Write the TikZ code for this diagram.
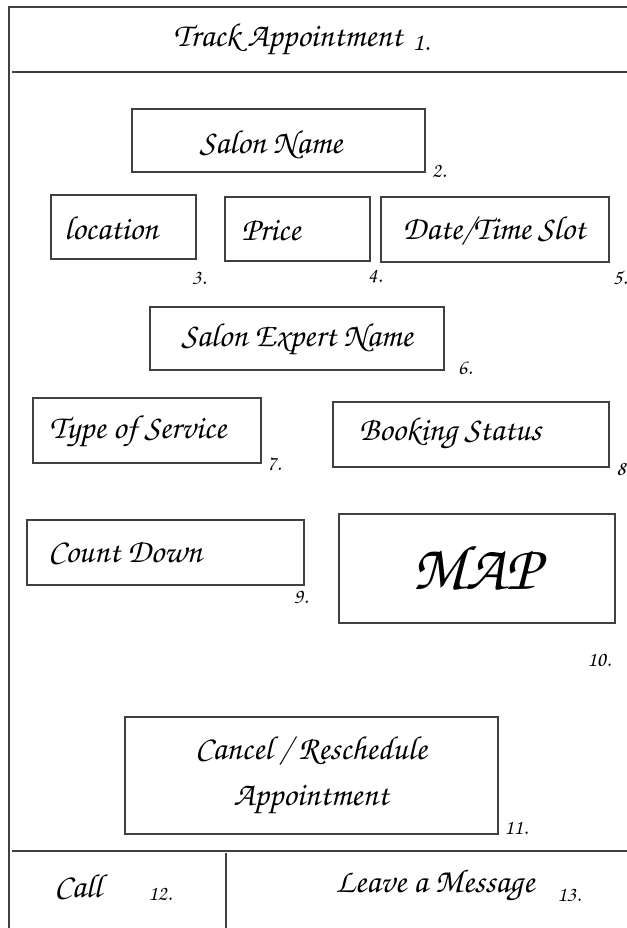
\documentclass[tikz,border=0pt]{standalone}
\usepackage[T1]{fontenc}
\usetikzlibrary{fit}
\newcommand{\handfont}{\fontencoding{T1}\fontfamily{pzc}\fontseries{mb}\fontshape{it}\selectfont}

\begin{document}
\begin{tikzpicture}[x=0.75pt, y=-0.75pt,
  frame/.style={draw=black!75, line width=1.4pt},
  box/.style={draw=black!75, line width=1.1pt, inner sep=0pt},
  txt/.style={font=\handfont\fontsize{25}{28}\selectfont, inner sep=0pt},
  num/.style={font=\handfont\fontsize{16}{18}\selectfont, inner sep=0pt}]

\useasboundingbox (0,0) rectangle (627,928);

\draw[frame] (9,928)--(9,7)--(627,7);
\draw[frame] (12,72)--(627,72);
\draw[frame] (12,851)--(627,851);
\draw[frame] (226,853)--(226,928);

\node[txt] (title) at (288,40) {Track Appointment};
\node[num, font=\handfont\fontsize{19}{21}\selectfont] (n1) at (421,43) {1.};

\node[box, fit={(132,109) (425,172)}] (salon) {};
\node[box, fit={(51,195) (196,259)}] (loc) {};
\node[box, fit={(225,197) (370,261)}] (price) {};
\node[box, fit={(381,197) (609,262)}] (date) {};
\node[box, fit={(150,307) (444,370)}] (expert) {};
\node[box, fit={(33,398) (261,463)}] (service) {};
\node[box, fit={(333,402) (609,467)}] (status) {};
\node[box, fit={(27,520) (304,585)}] (count) {};
\node[box, fit={(339,514) (615,623)}] (map) {};
\node[box, fit={(125,717) (498,834)}] (cancel) {};

\node[txt] (t-salon) at (271,145) {Salon Name};
\node[txt] (t-loc) at (111,228) {location};
\node[txt] (t-price) at (271,230) {Price};
\node[txt] (t-date) at (494,229) {Date/Time Slot};
\node[txt] (t-expert) at (297,340) {Salon Expert Name};
\node[txt] (t-service) at (138,432) {Type of Service};
\node[txt] (t-status) at (450,434) {Booking Status};
\node[txt] (t-count) at (125,552) {Count Down};
\node[txt, font=\handfont\fontsize{48}{52}\selectfont] (t-map) at (476,567) {MAP};
\node[txt] (t-cancel) at (311,751) {Cancel / Reschedule};
\node[txt] (t-appt) at (311,800) {Appointment};
\node[txt] (t-call) at (78,886) {Call};
\node[txt] (t-msg) at (435,886) {Leave a Message};

\node[num] (n2) at (439,171) {2.};
\node[num] (n3) at (199,278) {3.};
\node[num] (n4) at (375,276) {4.};
\node[num] (n5) at (620,278) {5.};
\node[num] (n6) at (465,368) {6.};
\node[num] (n7) at (274,464) {7.};
\node[num] (n8) at (621,469) {8};
\node[num] (n9) at (301,597) {9.};
\node[num] (n10) at (599,660) {10.};
\node[num] (n11) at (516,828) {11.};
\node[num] (n12) at (160,894) {12.};
\node[num] (n13) at (569,895) {13.};

\end{tikzpicture}
\end{document}
